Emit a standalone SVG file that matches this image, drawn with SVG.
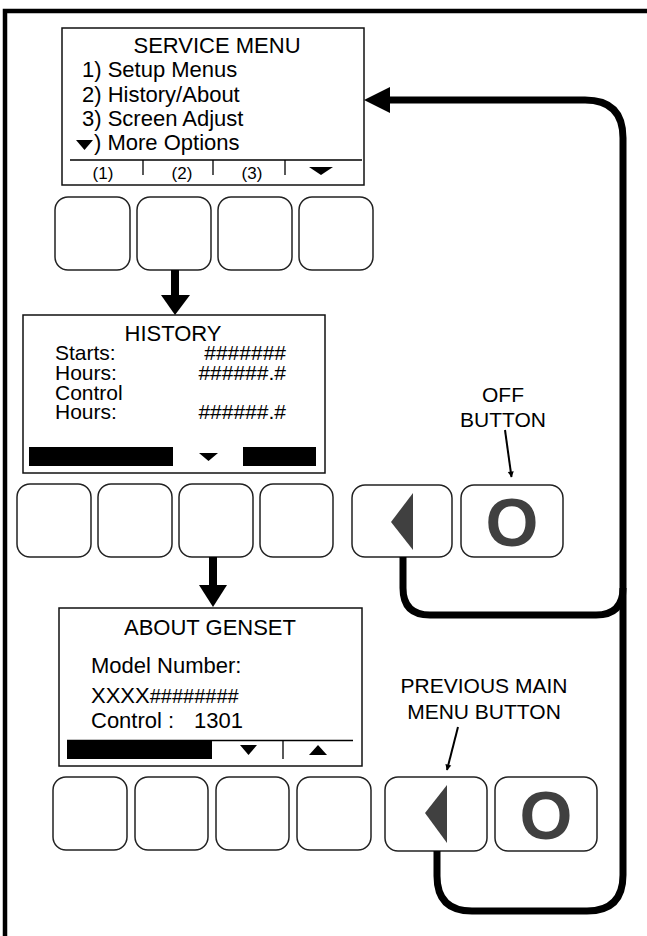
<svg xmlns="http://www.w3.org/2000/svg" width="647" height="936" viewBox="0 0 647 936">
<style>
text{font-family:"Liberation Sans",Arial,Helvetica,sans-serif;fill:#000}
.scr{fill:#fff;stroke:#111;stroke-width:1.5}
.btn{fill:#fff;stroke:#222;stroke-width:1.5}
.t22{font-size:22px}
.t21{font-size:21px}
.t16{font-size:17px}
.lab{font-size:21px;text-anchor:middle}
.mid{text-anchor:middle}
.end{text-anchor:end}
.big{font-size:68px;font-weight:bold;fill:#404040;text-anchor:middle}
.glyph{fill:#404040}
.loop{fill:none;stroke:#000;stroke-width:7;stroke-linecap:butt}
.thin{fill:none;stroke:#000;stroke-width:2}
.sep{stroke:#000;stroke-width:1.3}
</style>
<defs>
<marker id="small" viewBox="0 0 10 10" refX="9" refY="5" markerWidth="6" markerHeight="8" markerUnits="userSpaceOnUse" orient="auto" overflow="visible">
<path d="M0,0 L10,5 L0,10 z" fill="#000"/>
</marker>
</defs>
<rect width="647" height="936" fill="#fff"/>
<!-- outer frame -->
<path d="M5,936 V11 H647" fill="none" stroke="#000" stroke-width="4.5"/>

<g id="service-menu">
<rect class="scr" x="62" y="28" width="302" height="157"/>
<text class="t22 mid" x="217" y="53">SERVICE MENU</text>
<text class="t22" x="82" y="77">1) Setup Menus</text>
<text class="t22" x="82" y="102">2) History/About</text>
<text class="t22" x="82" y="126">3) Screen Adjust</text>
<polygon points="76,140 93,140 84.5,150" fill="#000"/>
<text class="t22" x="94" y="150">) More Options</text>
<line class="sep" x1="70" y1="160" x2="362" y2="160"/>
<line class="sep" x1="143" y1="160" x2="143" y2="175"/>
<line class="sep" x1="213" y1="160" x2="213" y2="175"/>
<line class="sep" x1="285" y1="160" x2="285" y2="175"/>
<text class="t16 mid" x="103" y="179">(1)</text>
<text class="t16 mid" x="182" y="179">(2)</text>
<text class="t16 mid" x="252" y="179">(3)</text>
<polygon points="309,167 333,167 321,175" fill="#000"/>
</g>

<g id="row1-buttons">
<rect class="btn" x="55" y="197" width="75" height="73" rx="13"/>
<rect class="btn" x="137" y="197" width="74" height="73" rx="13"/>
<rect class="btn" x="218" y="197" width="74" height="73" rx="13"/>
<rect class="btn" x="299" y="197" width="74" height="73" rx="13"/>
</g>

<g id="history">
<rect class="scr" x="23" y="315" width="302" height="158"/>
<text class="t22 mid" x="173" y="341">HISTORY</text>
<text class="t21" x="55" y="360">Starts:</text>
<text class="t21" x="55" y="380">Hours:</text>
<text class="t21" x="55" y="400">Control</text>
<text class="t21" x="55" y="419">Hours:</text>
<text class="t21 end" x="286" y="360">#######</text>
<text class="t21 end" x="286" y="380">######.#</text>
<text class="t21 end" x="286" y="419">######.#</text>
<rect x="29" y="447" width="144" height="19" fill="#000"/>
<rect x="243" y="447" width="73" height="19" fill="#000"/>
<polygon points="199,453 218,453 208.5,461" fill="#000"/>
</g>

<g id="row2-buttons">
<rect class="btn" x="17" y="484" width="74" height="73" rx="13"/>
<rect class="btn" x="98" y="484" width="74" height="73" rx="13"/>
<rect class="btn" x="179" y="484" width="74" height="73" rx="13"/>
<rect class="btn" x="260" y="484" width="73" height="73" rx="13"/>
</g>
<g id="row2-previous-button">
<rect class="btn" x="352" y="485" width="100" height="72" rx="13"/>
<polygon class="glyph" points="391,522 413,493 413,550"/>
</g>
<g id="row2-off-button">
<rect class="btn" x="461" y="485" width="102" height="72" rx="13"/>
<text class="big" x="512" y="546">O</text>
</g>
<g id="off-label">
<text class="lab" x="503" y="402">OFF</text>
<text class="lab" x="503" y="427">BUTTON</text>
</g>

<g id="about-genset">
<rect class="scr" x="59" y="608" width="303" height="158"/>
<text class="t22 mid" x="210" y="635">ABOUT GENSET</text>
<text class="t22" x="91" y="673">Model Number:</text>
<text class="t22" x="91" y="703">XXXX<tspan font-size="20">########</tspan></text>
<text class="t22" x="91" y="728">Control :</text>
<text class="t22" x="194" y="728">1301</text>
<line class="sep" x1="67" y1="740.5" x2="353" y2="740.5"/>
<rect x="67" y="741" width="145" height="18" fill="#000"/>
<line class="sep" x1="283" y1="740" x2="283" y2="759"/>
<polygon points="240,745 257,745 248.5,755" fill="#000"/>
<polygon points="309,755 327,755 318,745" fill="#000"/>
</g>

<g id="row3-buttons">
<rect class="btn" x="53" y="777" width="74" height="73" rx="13"/>
<rect class="btn" x="135" y="777" width="73" height="73" rx="13"/>
<rect class="btn" x="216" y="777" width="73" height="73" rx="13"/>
<rect class="btn" x="297" y="777" width="74" height="73" rx="13"/>
</g>
<g id="row3-previous-button">
<rect class="btn" x="385" y="777" width="102" height="74" rx="13"/>
<polygon class="glyph" points="425,813 447,785 447,843"/>
</g>
<g id="row3-off-button">
<rect class="btn" x="495" y="777" width="102" height="74" rx="13"/>
<text class="big" x="546" y="839">O</text>
</g>
<g id="previous-label">
<text class="lab" x="484" y="693">PREVIOUS MAIN</text>
<text class="lab" x="484" y="719">MENU BUTTON</text>
</g>

<g id="connectors">
<!-- down arrows -->
<rect x="171" y="270" width="8" height="26" fill="#000"/>
<polygon points="161,295 190,295 175,315" fill="#000"/>
<rect x="209" y="557" width="8" height="29" fill="#000"/>
<polygon points="199,585 227,585 213,607" fill="#000"/>
<!-- return loops -->
<path class="loop" d="M386,100 H585 Q623,100 623,138 V875 Q623,911 587,911 H472 Q437,911 437,876 V851"/>
<path class="loop" d="M403,557 V588 Q403,615 430,615 H596 Q623,615 623,588"/>
<polygon points="364,100 390,87 390,113" fill="#000"/>
<!-- label pointers -->
<line class="thin" x1="505" y1="430" x2="511.5" y2="477" marker-end="url(#small)"/>
<line class="thin" x1="458" y1="727" x2="447" y2="770" marker-end="url(#small)"/>
</g>
</svg>
